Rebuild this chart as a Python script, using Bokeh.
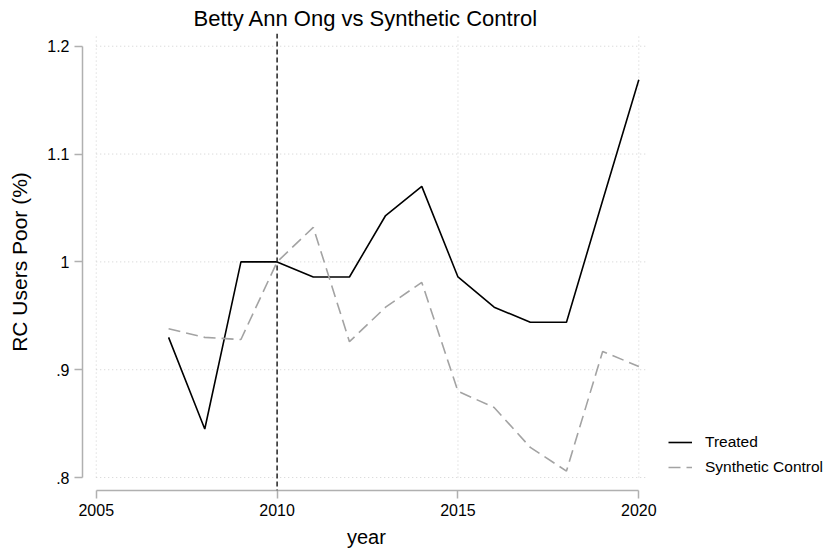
from bokeh.plotting import figure
from bokeh.models import Range1d, FixedTicker, Span, Legend, LegendItem, Title
from bokeh.embed import file_html
from bokeh.resources import INLINE

# Share of RC users who are poor, treated unit vs. its synthetic control
years = list(range(2007, 2021))
treated = [0.930, 0.845, 1.000, 1.000, 0.986, 0.986, 1.043, 1.070,
           0.986, 0.958, 0.944, 0.944, 1.057, 1.169]
synthetic = [0.938, 0.930, 0.928, 1.000, 1.032, 0.926, 0.958, 0.981,
             0.880, 0.865, 0.828, 0.806, 0.917, 0.903]

x_ticks = [2005, 2010, 2015, 2020]
y_ticks = [0.8, 0.9, 1.0, 1.1, 1.2]
y_tick_labels = [".8", ".9", "1", "1.1", "1.2"]
treatment_year = 2010

FONT = "Liberation Sans"
AXIS_GREY = "#b0b0b0"
GRID_GREY = "#cfcfcf"

# The plotting area runs to the right edge so the legend can sit beside
# the data region; grid lines stop a little past the last year.
px_per_year = 565 / 15.62
x_start = 2004.62
x_end = x_start + 748 / px_per_year
grid_right = 2020.24

x_range = Range1d(x_start, x_end)
y_range = Range1d(0.788, 1.2118)

p = figure(width=830, height=555, x_range=x_range, y_range=y_range,
           output_backend="svg", toolbar_location=None,
           min_border_left=82, min_border_right=0,
           min_border_top=32, min_border_bottom=65)
p.outline_line_color = None
p.background_fill_color = "white"
p.border_fill_color = "white"
p.xgrid.visible = False
p.ygrid.visible = False

# Title, centred over the data region
p.title.text = "Betty Ann Ong vs Synthetic Control"
p.title.align = "left"
p.title.offset = 111
p.title.text_font = FONT
p.title.text_font_size = "22px"
p.title.text_font_style = "normal"
p.title.text_color = "black"
p.title.standoff = 6

# Dotted grid lines, starting at the first tick
p.segment(x0=[x_ticks[0]] * len(y_ticks), x1=[grid_right] * len(y_ticks),
          y0=y_ticks, y1=y_ticks, line_color=GRID_GREY, line_width=1,
          line_dash="1 3")
p.segment(x0=x_ticks, x1=x_ticks, y0=[y_ticks[0]] * len(x_ticks),
          y1=[y_range.end] * len(x_ticks), line_color=GRID_GREY,
          line_width=1, line_dash="1 3")

# Treatment start
p.add_layout(Span(location=treatment_year, dimension="height",
                  line_color="#222222", line_width=1.5, line_dash="5 3"))

r_treated = p.line(years, treated, line_color="black", line_width=1.6)
r_synth = p.line(years, synthetic, line_color="#a3a3a3", line_width=1.6,
                 line_dash="12 6")

# Axes
for ax in (p.xaxis[0], p.yaxis[0]):
    ax.axis_line_color = AXIS_GREY
    ax.axis_line_width = 1.5
    ax.major_tick_line_color = AXIS_GREY
    ax.major_tick_line_width = 1.5
    ax.major_tick_in = 0
    ax.major_tick_out = 8
    ax.minor_tick_line_color = None
    ax.major_label_text_font = FONT
    ax.major_label_text_font_size = "16px"
    ax.major_label_text_color = "black"
    ax.axis_label_text_font = FONT
    ax.axis_label_text_font_style = "normal"
    ax.axis_label_text_color = "black"

p.xaxis.ticker = FixedTicker(ticks=x_ticks)
p.xaxis.bounds = (x_ticks[0], x_ticks[-1])
p.xaxis.major_label_standoff = 5

# x-axis title, centred under the data region
p.add_layout(Title(text="year", align="left", offset=264.5,
                   text_font=FONT, text_font_size="20px",
                   text_font_style="normal", text_color="black",
                   standoff=10), "below")

p.yaxis.ticker = FixedTicker(ticks=y_ticks)
p.yaxis.major_label_overrides = dict(zip(y_ticks, y_tick_labels))
p.yaxis.bounds = (y_ticks[0], y_ticks[-1])
p.yaxis.major_label_orientation = "horizontal"
p.yaxis.axis_label = "RC Users Poor (%)"
p.yaxis.axis_label_text_font_size = "21px"
p.yaxis.major_label_standoff = 5
p.yaxis.axis_label_standoff = 13

# Legend to the right of the data region
legend = Legend(items=[LegendItem(label="Treated", renderers=[r_treated]),
                       LegendItem(label="Synthetic Control", renderers=[r_synth])],
                location=(586, 13))
legend.border_line_color = None
legend.background_fill_alpha = 0
legend.padding = 0
legend.margin = 0
legend.spacing = 5
legend.glyph_width = 24
legend.glyph_height = 20
legend.label_height = 20
legend.label_standoff = 13
legend.label_text_font = FONT
legend.label_text_font_size = "15.5px"
legend.label_text_color = "black"
p.add_layout(legend)

open("out.html", "w").write(file_html(p, INLINE))
